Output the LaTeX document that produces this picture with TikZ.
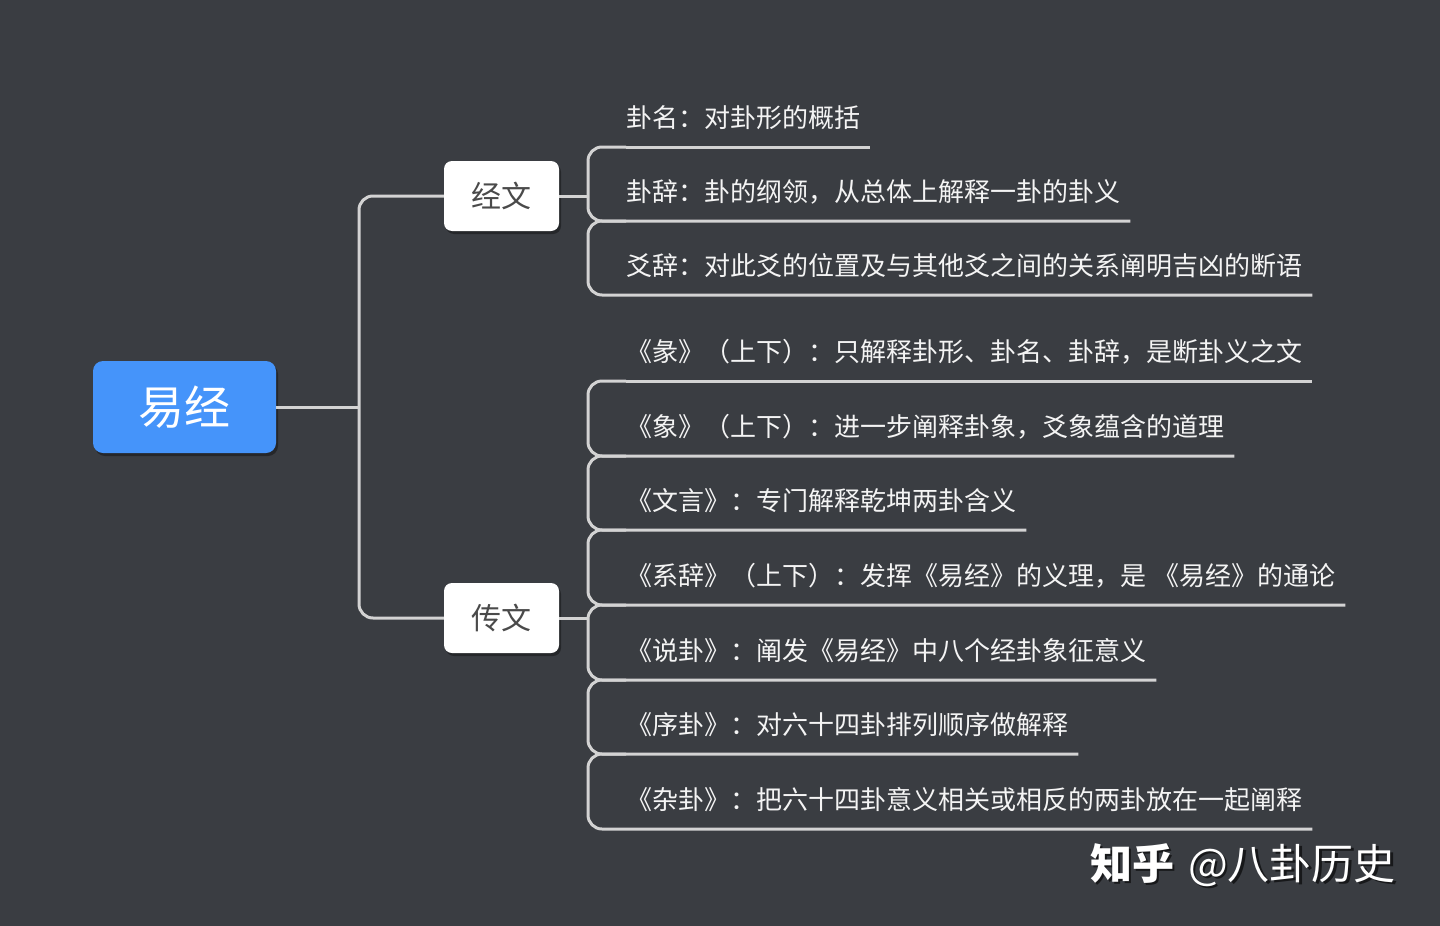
\documentclass[tikz,border=0pt]{standalone}
\usepackage{fontspec}
\setmainfont{Noto Sans CJK SC}
\usetikzlibrary{shadows,calc}
\definecolor{bg}{HTML}{3A3D42}
\definecolor{rootblue}{HTML}{4594FA}
\definecolor{linegray}{HTML}{D3D3D3}
\definecolor{subtext}{HTML}{4A4A4A}
\definecolor{leaftext}{HTML}{F4F4F4}
\begin{document}
\begin{tikzpicture}[x=1pt,y=-1pt,
  conn/.style={draw=linegray,line width=3pt,rounded corners=14pt},
  uline/.style={draw=linegray,line width=3pt},
  boxshadow/.style={drop shadow={shadow xshift=2pt,shadow yshift=-3pt,fill=black,opacity=0.35}},
  rootbox/.style={fill=rootblue,rounded corners=10pt,minimum width=183pt,minimum height=92pt,
    text=white,font=\fontsize{46}{50}\selectfont,boxshadow},
  midbox/.style={fill=white,rounded corners=8pt,minimum width=115pt,minimum height=70pt,
    text=subtext,font=\fontsize{30}{34}\selectfont,boxshadow},
  leaf/.style={anchor=west,inner sep=0pt,text=leaftext,font=\fontsize{26}{30}\selectfont},
  wmark/.style={inner sep=0pt,text=white,font=\fontsize{42}{46}\selectfont}
]
\fill[bg] (0,0) rectangle (1440,926);
\useasboundingbox (0,0) rectangle (1440,926);

\node[rootbox] (root) at (184.5,407) {易经};
\node[midbox] (jw) at (501.5,196) {经文};
\node[midbox] (cw) at (501.5,618) {传文};

\coordinate (busR) at (359,407);
\coordinate (busJ) at (588,196);
\coordinate (busC) at (588,618);

\draw[conn] (root.east) -- (busR);
\draw[conn] (jw.west) -- (359,196) -- (359,618) -- (cw.west);
\draw[conn] (jw.east) -- (busJ);
\draw[conn] (cw.east) -- (busC);

% 经文 leaves
\node[leaf] (a1) at (626,118) {卦名：对卦形的概括};
\node[leaf] (a2) at (626,192) {卦辞：卦的纲领，从总体上解释一卦的卦义};
\node[leaf] (a3) at (626,266) {爻辞：对此爻的位置及与其他爻之间的关系阐明吉凶的断语};

\draw[uline] ($(a1.west)+(0,29)$) -- ($(a1.east)+(10,29)$);
\draw[conn] ($(a1.west)+(0,29)$) -- (588,147) -- (588,221) -- ($(a2.east)+(10,29)$);
\draw[conn] ($(a2.west)+(0,29)$) -- (588,221) -- (588,295) -- ($(a3.east)+(10,29)$);

% 传文 leaves
\node[leaf] (b1) at (626,352) {《彖》（上下）：只解释卦形、卦名、卦辞，是断卦义之文};
\node[leaf] (b2) at (626,427) {《象》（上下）：进一步阐释卦象，爻象蕴含的道理};
\node[leaf] (b3) at (626,501) {《文言》：专门解释乾坤两卦含义};
\node[leaf] (b4) at (626,576) {《系辞》（上下）：发挥《易经》的义理，是\hspace{7pt}《易经》的通论};
\node[leaf] (b5) at (626,651) {《说卦》：阐发《易经》中八个经卦象征意义};
\node[leaf] (b6) at (626,725) {《序卦》：对六十四卦排列顺序做解释};
\node[leaf] (b7) at (626,800) {《杂卦》：把六十四卦意义相关或相反的两卦放在一起阐释};

\draw[uline] ($(b1.west)+(0,29)$) -- ($(b1.east)+(10,29)$);
\draw[conn] ($(b1.west)+(0,29)$) -- (588,381) -- (588,456) -- ($(b2.east)+(10,29)$);
\draw[conn] ($(b2.west)+(0,29)$) -- (588,456) -- (588,530) -- ($(b3.east)+(10,29)$);
\draw[conn] ($(b3.west)+(0,29)$) -- (588,530) -- (588,605) -- ($(b4.east)+(10,29)$);
\draw[conn] ($(b4.west)+(0,29)$) -- (588,605) -- (588,680) -- ($(b5.east)+(10,29)$);
\draw[conn] ($(b5.west)+(0,29)$) -- (588,680) -- (588,754) -- ($(b6.east)+(10,29)$);
\draw[conn] ($(b6.west)+(0,29)$) -- (588,754) -- (588,829) -- ($(b7.east)+(10,29)$);

% watermark
\node[wmark,anchor=west,text=black,opacity=0.6] (wms) at (1092.5,867.5) {{\bfseries 知乎}\hspace{14pt}@八卦历史};
\node[wmark,anchor=west] (wm) at (1090,865) {{\bfseries 知乎}\hspace{14pt}@八卦历史};
\end{tikzpicture}
\end{document}
